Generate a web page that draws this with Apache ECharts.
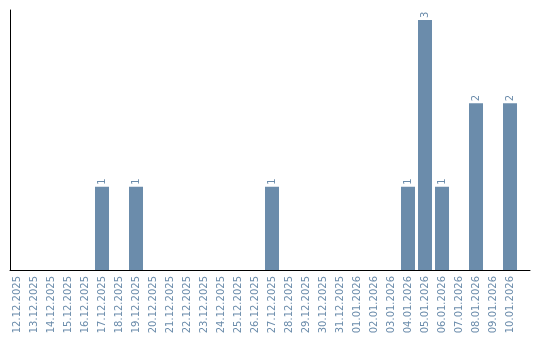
<!DOCTYPE html>
<html>
<head>
<meta charset="utf-8">
<script src="https://cdn.jsdelivr.net/npm/echarts@6/dist/echarts.min.js"></script>
<style>html,body{margin:0;padding:0;background:#fff}#c{width:540px;height:340px}</style>
</head>
<body>
<div id="c"></div>
<script>
const categories = ['12.12.2025','13.12.2025','14.12.2025','15.12.2025','16.12.2025','17.12.2025','18.12.2025','19.12.2025','20.12.2025','21.12.2025','22.12.2025','23.12.2025','24.12.2025','25.12.2025','26.12.2025','27.12.2025','28.12.2025','29.12.2025','30.12.2025','31.12.2025','01.01.2026','02.01.2026','03.01.2026','04.01.2026','05.01.2026','06.01.2026','07.01.2026','08.01.2026','09.01.2026','10.01.2026'];
const values = [0,0,0,0,0,1,0,1,0,0,0,0,0,0,0,1,0,0,0,0,0,0,0,1,3,1,0,2,0,2];

const barColor = '#6b8cab';
const textColor = '#6b8cab';
const font = 'DejaVu Sans';

const chart = echarts.init(document.getElementById('c'), null, {renderer: 'canvas'});
const idx = categories.map((c, i) => i);
chart.setOption({
  animation: false,
  grid: {left: 10, right: 10, top: 10, bottom: 70, containLabel: false},
  xAxis: {
    type: 'value',
    min: -0.412,
    max: 30.176,
    axisLine: {show: true, onZero: false, lineStyle: {color: '#000', width: 1}},
    axisTick: {show: false},
    splitLine: {show: false},
    axisLabel: {
      customValues: idx,
      rotate: 90,
      margin: 6,
      color: textColor,
      fontFamily: font,
      fontSize: 10,
      formatter: v => categories[Math.round(v)]
    }
  },
  yAxis: {
    type: 'value',
    min: 0,
    max: 3.12,
    axisLine: {show: true, onZero: false, lineStyle: {color: '#000', width: 1}},
    axisTick: {show: false},
    splitLine: {show: false},
    axisLabel: {show: false}
  },
  series: [{
    type: 'bar',
    barWidth: 14,
    itemStyle: {color: barColor},
    data: values.map((v, i) => [i, v]).filter(d => d[1] > 0),
    label: {
      show: true,
      position: 'top',
      rotate: 90,
      align: 'left',
      verticalAlign: 'middle',
      distance: 2,
      color: textColor,
      fontFamily: font,
      fontSize: 10,
      formatter: p => p.value[1]
    }
  }]
});
</script>
</body>
</html>
